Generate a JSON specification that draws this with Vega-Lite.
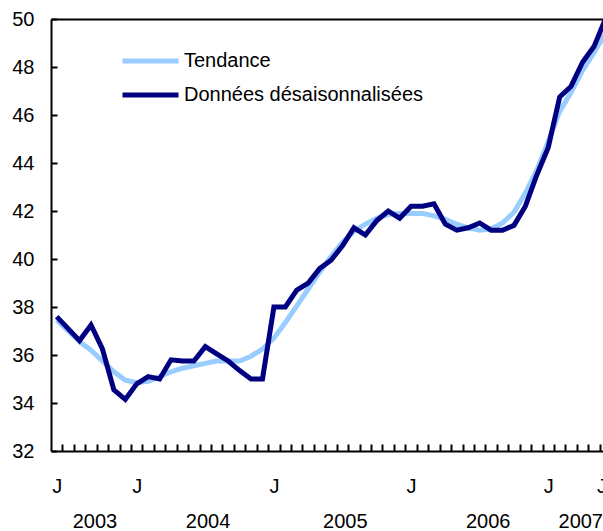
{
  "$schema": "https://vega.github.io/schema/vega-lite/v6.json",
  "autosize": {"type": "none"},
  "padding": {"left": 51, "top": 19, "right": 0, "bottom": 80},
  "width": 552,
  "height": 432,
  "background": "white",
  "config": {
    "view": {"stroke": null},
    "font": "Liberation Sans",
    "axis": {"grid": false, "labelFont": "Liberation Sans", "labelFontSize": 20, "labelColor": "black", "title": null, "domainColor": "black", "tickColor": "black"}
  },
  "data": {
    "values": [
      {"i": 0, "d": 37.6, "t": 37.45},
      {"i": 1, "d": 37.1, "t": 37.0},
      {"i": 2, "d": 36.6, "t": 36.55},
      {"i": 3, "d": 37.25, "t": 36.2},
      {"i": 4, "d": 36.25, "t": 35.75},
      {"i": 5, "d": 34.55, "t": 35.3},
      {"i": 6, "d": 34.15, "t": 34.95},
      {"i": 7, "d": 34.8, "t": 34.85},
      {"i": 8, "d": 35.1, "t": 34.9},
      {"i": 9, "d": 35.0, "t": 35.1},
      {"i": 10, "d": 35.8, "t": 35.3},
      {"i": 11, "d": 35.75, "t": 35.45},
      {"i": 12, "d": 35.75, "t": 35.55},
      {"i": 13, "d": 36.35, "t": 35.65},
      {"i": 14, "d": 36.05, "t": 35.75},
      {"i": 15, "d": 35.75, "t": 35.75},
      {"i": 16, "d": 35.35, "t": 35.75},
      {"i": 17, "d": 35.0, "t": 35.95},
      {"i": 18, "d": 35.0, "t": 36.25},
      {"i": 19, "d": 38.0, "t": 36.7},
      {"i": 20, "d": 38.0, "t": 37.35},
      {"i": 21, "d": 38.7, "t": 38.05},
      {"i": 22, "d": 39.0, "t": 38.75},
      {"i": 23, "d": 39.6, "t": 39.45},
      {"i": 24, "d": 39.95, "t": 40.1},
      {"i": 25, "d": 40.55, "t": 40.7},
      {"i": 26, "d": 41.3, "t": 41.15},
      {"i": 27, "d": 41.0, "t": 41.45},
      {"i": 28, "d": 41.6, "t": 41.7},
      {"i": 29, "d": 42.0, "t": 41.85},
      {"i": 30, "d": 41.7, "t": 41.9},
      {"i": 31, "d": 42.2, "t": 41.9},
      {"i": 32, "d": 42.2, "t": 41.9},
      {"i": 33, "d": 42.3, "t": 41.8},
      {"i": 34, "d": 41.45, "t": 41.65},
      {"i": 35, "d": 41.2, "t": 41.45},
      {"i": 36, "d": 41.3, "t": 41.3},
      {"i": 37, "d": 41.5, "t": 41.2},
      {"i": 38, "d": 41.2, "t": 41.25},
      {"i": 39, "d": 41.2, "t": 41.5},
      {"i": 40, "d": 41.4, "t": 41.95},
      {"i": 41, "d": 42.2, "t": 42.75},
      {"i": 42, "d": 43.5, "t": 43.7},
      {"i": 43, "d": 44.65, "t": 44.9},
      {"i": 44, "d": 46.75, "t": 46.15},
      {"i": 45, "d": 47.2, "t": 46.95},
      {"i": 46, "d": 48.2, "t": 47.85},
      {"i": 47, "d": 48.85, "t": 48.6},
      {"i": 48, "d": 50.0, "t": 49.4}
    ]
  },
  "transform": [
    {"fold": ["t", "d"], "as": ["k", "v"]},
    {"lookup": "k", "from": {"data": {"values": [{"k": "t", "series": "Tendance"}, {"k": "d", "series": "Données désaisonnalisées"}]}, "key": "k", "fields": ["series"]}}
  ],
  "resolve": {"axis": {"x": "independent"}},
  "layer": [
    {
      "mark": {"type": "line", "strokeWidth": 5, "clip": true},
      "encoding": {
        "x": {
          "field": "i", "type": "quantitative",
          "scale": {"domain": [-0.5, 47.79], "nice": false, "zero": false},
          "axis": {
            "orient": "bottom",
            "values": [0.5,1.5,2.5,3.5,4.5,5.5,6.5,7.5,8.5,9.5,10.5,11.5,12.5,13.5,14.5,15.5,16.5,17.5,18.5,19.5,20.5,21.5,22.5,23.5,24.5,25.5,26.5,27.5,28.5,29.5,30.5,31.5,32.5,33.5,34.5,35.5,36.5,37.5,38.5,39.5,40.5,41.5,42.5,43.5,44.5,45.5,46.5,47.5],
            "labels": false, "tickSize": -7, "tickWidth": 2, "domainWidth": 2
          }
        },
        "y": {
          "field": "v", "type": "quantitative",
          "scale": {"domain": [32, 50], "nice": false, "zero": false},
          "axis": {"orient": "left", "values": [32,34,36,38,40,42,44,46,48,50], "tickSize": -6, "tickWidth": 2, "domainWidth": 2, "labelPadding": 23}
        },
        "color": {
          "field": "series", "type": "nominal",
          "scale": {"domain": ["Tendance", "Données désaisonnalisées"], "range": ["#99CCFF", "#000080"]},
          "legend": {
            "title": null, "orient": "none", "legendX": 69, "legendY": 32, "padding": 0,
            "symbolType": "stroke", "symbolSize": 3136, "symbolStrokeWidth": 5, "clipHeight": 20,
            "rowPadding": 14, "labelOffset": 3, "labelFont": "Liberation Sans", "labelFontSize": 20, "labelColor": "black", "labelLimit": 400
          }
        },
        "detail": {"field": "series"}
      }
    },
    {
      "mark": {"type": "point", "opacity": 0},
      "encoding": {
        "x": {
          "field": "i", "type": "quantitative",
          "axis": {"orient": "top", "labels": false, "ticks": false, "domain": true, "domainWidth": 2}
        }
      }
    },
    {
      "mark": {"type": "point", "opacity": 0},
      "encoding": {
        "x": {
          "field": "i", "type": "quantitative",
          "axis": {"orient": "bottom", "values": [0, 7, 19, 31, 43, 47.65], "labelExpr": "'J'", "ticks": false, "domain": false, "labelPadding": 25, "labelFlush": false, "labelOverlap": false, "labelBound": false}
        }
      }
    },
    {
      "mark": {"type": "point", "opacity": 0},
      "encoding": {
        "x": {
          "field": "i", "type": "quantitative",
          "axis": {"orient": "bottom", "values": [3.3, 13.2, 25.2, 37.7, 45.8], "labelExpr": "datum.value < 8 ? '2003' : datum.value < 20 ? '2004' : datum.value < 30 ? '2005' : datum.value < 40 ? '2006' : '2007'", "ticks": false, "domain": false, "labelPadding": 60, "labelFlush": false, "labelOverlap": false, "labelBound": false}
        }
      }
    }
  ]
}
